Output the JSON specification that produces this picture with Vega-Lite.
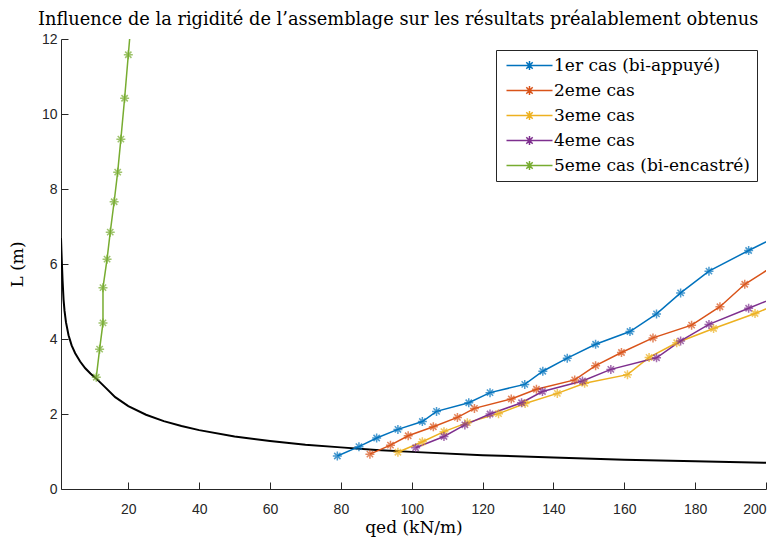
{
  "$schema": "https://vega.github.io/schema/vega-lite/v6.json",
  "width": 705,
  "height": 450,
  "autosize": {"type": "none"},
  "padding": {"left": 61, "top": 39, "right": 13, "bottom": 48},
  "background": "white",
  "config": {"view": {"stroke": null}},
  "title": {"text": "Influence de la rigidité de l’assemblage sur les résultats préalablement obtenus", "font": "DejaVu Serif", "fontSize": 17.8, "fontWeight": "normal", "color": "black", "offset": 3, "anchor": "start", "dx": -23, "frame": "group"},
  "datasets": {
    "courbe": [
      {"q": 1, "L": 6.69}, {"q": 1.12, "L": 6.35}, {"q": 1.27, "L": 5.97}, {"q": 1.45, "L": 5.55}, {"q": 1.72, "L": 5.05},
      {"q": 2.0, "L": 4.75}, {"q": 2.4, "L": 4.45}, {"q": 3.13, "L": 4.1}, {"q": 4, "L": 3.83}, {"q": 5, "L": 3.62},
      {"q": 6.4, "L": 3.4}, {"q": 7.85, "L": 3.22}, {"q": 9.3, "L": 3.08}, {"q": 10.9, "L": 2.95}, {"q": 13.5, "L": 2.71},
      {"q": 16.3, "L": 2.45}, {"q": 20, "L": 2.21}, {"q": 25, "L": 1.98}, {"q": 30, "L": 1.81},
      {"q": 35, "L": 1.68}, {"q": 40, "L": 1.57}, {"q": 50, "L": 1.4}, {"q": 60, "L": 1.28}, {"q": 70, "L": 1.18},
      {"q": 80, "L": 1.11}, {"q": 90, "L": 1.04}, {"q": 100, "L": 0.99}, {"q": 120, "L": 0.9}, {"q": 140, "L": 0.84},
      {"q": 160, "L": 0.78}, {"q": 180, "L": 0.74}, {"q": 200, "L": 0.7}
    ],
    "cas": [
      {"serie": "1er cas (bi-appuyé)", "q": 79.0, "L": 0.88},
      {"serie": "1er cas (bi-appuyé)", "q": 85.1, "L": 1.13},
      {"serie": "1er cas (bi-appuyé)", "q": 90.1, "L": 1.36},
      {"serie": "1er cas (bi-appuyé)", "q": 96.1, "L": 1.59},
      {"serie": "1er cas (bi-appuyé)", "q": 103.0, "L": 1.8},
      {"serie": "1er cas (bi-appuyé)", "q": 107.0, "L": 2.07},
      {"serie": "1er cas (bi-appuyé)", "q": 116.1, "L": 2.3},
      {"serie": "1er cas (bi-appuyé)", "q": 122.1, "L": 2.57},
      {"serie": "1er cas (bi-appuyé)", "q": 131.9, "L": 2.79},
      {"serie": "1er cas (bi-appuyé)", "q": 137.0, "L": 3.14},
      {"serie": "1er cas (bi-appuyé)", "q": 143.9, "L": 3.49},
      {"serie": "1er cas (bi-appuyé)", "q": 151.9, "L": 3.86},
      {"serie": "1er cas (bi-appuyé)", "q": 161.6, "L": 4.2},
      {"serie": "1er cas (bi-appuyé)", "q": 169.1, "L": 4.67},
      {"serie": "1er cas (bi-appuyé)", "q": 175.9, "L": 5.23},
      {"serie": "1er cas (bi-appuyé)", "q": 183.9, "L": 5.81},
      {"serie": "1er cas (bi-appuyé)", "q": 195.1, "L": 6.36},
      {"serie": "1er cas (bi-appuyé)", "q": 206.0, "L": 6.87},
      {"serie": "2eme cas", "q": 88.2, "L": 0.93},
      {"serie": "2eme cas", "q": 94.0, "L": 1.17},
      {"serie": "2eme cas", "q": 99.0, "L": 1.42},
      {"serie": "2eme cas", "q": 106.1, "L": 1.66},
      {"serie": "2eme cas", "q": 112.9, "L": 1.91},
      {"serie": "2eme cas", "q": 117.7, "L": 2.15},
      {"serie": "2eme cas", "q": 128.1, "L": 2.4},
      {"serie": "2eme cas", "q": 135.2, "L": 2.66},
      {"serie": "2eme cas", "q": 146.0, "L": 2.91},
      {"serie": "2eme cas", "q": 151.9, "L": 3.29},
      {"serie": "2eme cas", "q": 159.2, "L": 3.64},
      {"serie": "2eme cas", "q": 168.1, "L": 4.03},
      {"serie": "2eme cas", "q": 179.0, "L": 4.37},
      {"serie": "2eme cas", "q": 187.0, "L": 4.86},
      {"serie": "2eme cas", "q": 194.0, "L": 5.46},
      {"serie": "2eme cas", "q": 203.0, "L": 6.0},
      {"serie": "3eme cas", "q": 96.1, "L": 0.98},
      {"serie": "3eme cas", "q": 103.0, "L": 1.26},
      {"serie": "3eme cas", "q": 109.1, "L": 1.53},
      {"serie": "3eme cas", "q": 115.7, "L": 1.77},
      {"serie": "3eme cas", "q": 124.5, "L": 2.01},
      {"serie": "3eme cas", "q": 132.0, "L": 2.28},
      {"serie": "3eme cas", "q": 141.1, "L": 2.55},
      {"serie": "3eme cas", "q": 148.8, "L": 2.82},
      {"serie": "3eme cas", "q": 160.9, "L": 3.05},
      {"serie": "3eme cas", "q": 167.0, "L": 3.51},
      {"serie": "3eme cas", "q": 174.8, "L": 3.9},
      {"serie": "3eme cas", "q": 185.2, "L": 4.28},
      {"serie": "3eme cas", "q": 196.9, "L": 4.68},
      {"serie": "3eme cas", "q": 205.0, "L": 5.0},
      {"serie": "4eme cas", "q": 101.1, "L": 1.1},
      {"serie": "4eme cas", "q": 109.1, "L": 1.4},
      {"serie": "4eme cas", "q": 115.0, "L": 1.71},
      {"serie": "4eme cas", "q": 122.1, "L": 2.0},
      {"serie": "4eme cas", "q": 131.0, "L": 2.3},
      {"serie": "4eme cas", "q": 136.9, "L": 2.6},
      {"serie": "4eme cas", "q": 148.2, "L": 2.88},
      {"serie": "4eme cas", "q": 156.2, "L": 3.19},
      {"serie": "4eme cas", "q": 169.1, "L": 3.5},
      {"serie": "4eme cas", "q": 175.9, "L": 3.95},
      {"serie": "4eme cas", "q": 183.9, "L": 4.39},
      {"serie": "4eme cas", "q": 195.1, "L": 4.82},
      {"serie": "4eme cas", "q": 205.0, "L": 5.2},
      {"serie": "5eme cas (bi-encastré)", "q": 10.96, "L": 2.98},
      {"serie": "5eme cas (bi-encastré)", "q": 11.9, "L": 3.73},
      {"serie": "5eme cas (bi-encastré)", "q": 12.85, "L": 4.43},
      {"serie": "5eme cas (bi-encastré)", "q": 12.85, "L": 5.37},
      {"serie": "5eme cas (bi-encastré)", "q": 14.0, "L": 6.13},
      {"serie": "5eme cas (bi-encastré)", "q": 14.9, "L": 6.85},
      {"serie": "5eme cas (bi-encastré)", "q": 16.0, "L": 7.66},
      {"serie": "5eme cas (bi-encastré)", "q": 17.0, "L": 8.45},
      {"serie": "5eme cas (bi-encastré)", "q": 17.9, "L": 9.33},
      {"serie": "5eme cas (bi-encastré)", "q": 18.96, "L": 10.42},
      {"serie": "5eme cas (bi-encastré)", "q": 20.0, "L": 11.58},
      {"serie": "5eme cas (bi-encastré)", "q": 21.0, "L": 12.7}
    ]
  },
  "layer": [
    {
      "data": {"name": "courbe"},
      "mark": {"type": "line", "color": "black", "strokeWidth": 2, "clip": true},
      "encoding": {
        "x": {"field": "q", "type": "quantitative", "scale": {"domain": [1, 200], "nice": false, "zero": false},
          "axis": {"values": [20, 40, 60, 80, 100, 120, 140, 160, 180, 200], "grid": false, "tickSize": -7, "labelPadding": 20,
            "labelFont": "Liberation Sans", "labelFontSize": 14, "labelColor": "#262626", "domainColor": "#262626", "tickColor": "#262626",
            "title": "qed (kN/m)", "titleFont": "DejaVu Serif", "titleFontSize": 17, "titleFontWeight": "normal", "titleColor": "black", "titlePadding": 3}},
        "y": {"field": "L", "type": "quantitative", "scale": {"domain": [0, 12], "nice": false, "zero": false},
          "axis": {"values": [0, 2, 4, 6, 8, 10, 12], "grid": false, "tickSize": -7, "labelPadding": 11,
            "labelFont": "Liberation Sans", "labelFontSize": 14, "labelColor": "#262626", "domainColor": "#262626", "tickColor": "#262626",
            "title": "L (m)", "titleFont": "DejaVu Serif", "titleFontSize": 17, "titleFontWeight": "normal", "titleColor": "black", "titlePadding": 15}}
      }
    },
    {
      "data": {"name": "cas"},
      "mark": {"type": "line", "strokeWidth": 1.5, "clip": true},
      "encoding": {
        "x": {"field": "q", "type": "quantitative"},
        "y": {"field": "L", "type": "quantitative"},
        "color": {"field": "serie", "type": "nominal",
          "scale": {"domain": ["1er cas (bi-appuyé)", "2eme cas", "3eme cas", "4eme cas", "5eme cas (bi-encastré)"],
            "range": ["#0072BD", "#D95319", "#EDB120", "#7E2F8E", "#77AC30"]},
          "legend": {"title": null, "orient": "none", "legendX": 435, "legendY": 11,
            "symbolType": "M-1,0H8.2M3.6,-0.9V0.9M2.7,0H4.5M2.96,-0.64L4.24,0.64M2.96,0.64L4.24,-0.64",
            "symbolSize": 100, "symbolStrokeWidth": 1.5, "symbolFillColor": "transparent", "symbolOffset": 0,
            "labelFont": "DejaVu Serif", "labelFontSize": 17, "labelColor": "black", "labelOffset": 34, "labelLimit": 400,
            "strokeColor": "#262626", "fillColor": "white", "padding": 7, "rowPadding": 7}},
        "order": {"field": "q", "type": "quantitative"}
      }
    },
    {
      "data": {"name": "cas"},
      "mark": {"type": "point", "shape": "M-1,0H1M0,-1V1M-0.7,-0.7L0.7,0.7M-0.7,0.7L0.7,-0.7", "size": 81, "filled": false, "strokeWidth": 1.5, "clip": true},
      "encoding": {
        "x": {"field": "q", "type": "quantitative"},
        "y": {"field": "L", "type": "quantitative"},
        "stroke": {"field": "serie", "type": "nominal",
          "scale": {"domain": ["1er cas (bi-appuyé)", "2eme cas", "3eme cas", "4eme cas", "5eme cas (bi-encastré)"],
            "range": ["#0072BD", "#D95319", "#EDB120", "#7E2F8E", "#77AC30"]},
          "legend": null}
      }
    }
  ]
}
